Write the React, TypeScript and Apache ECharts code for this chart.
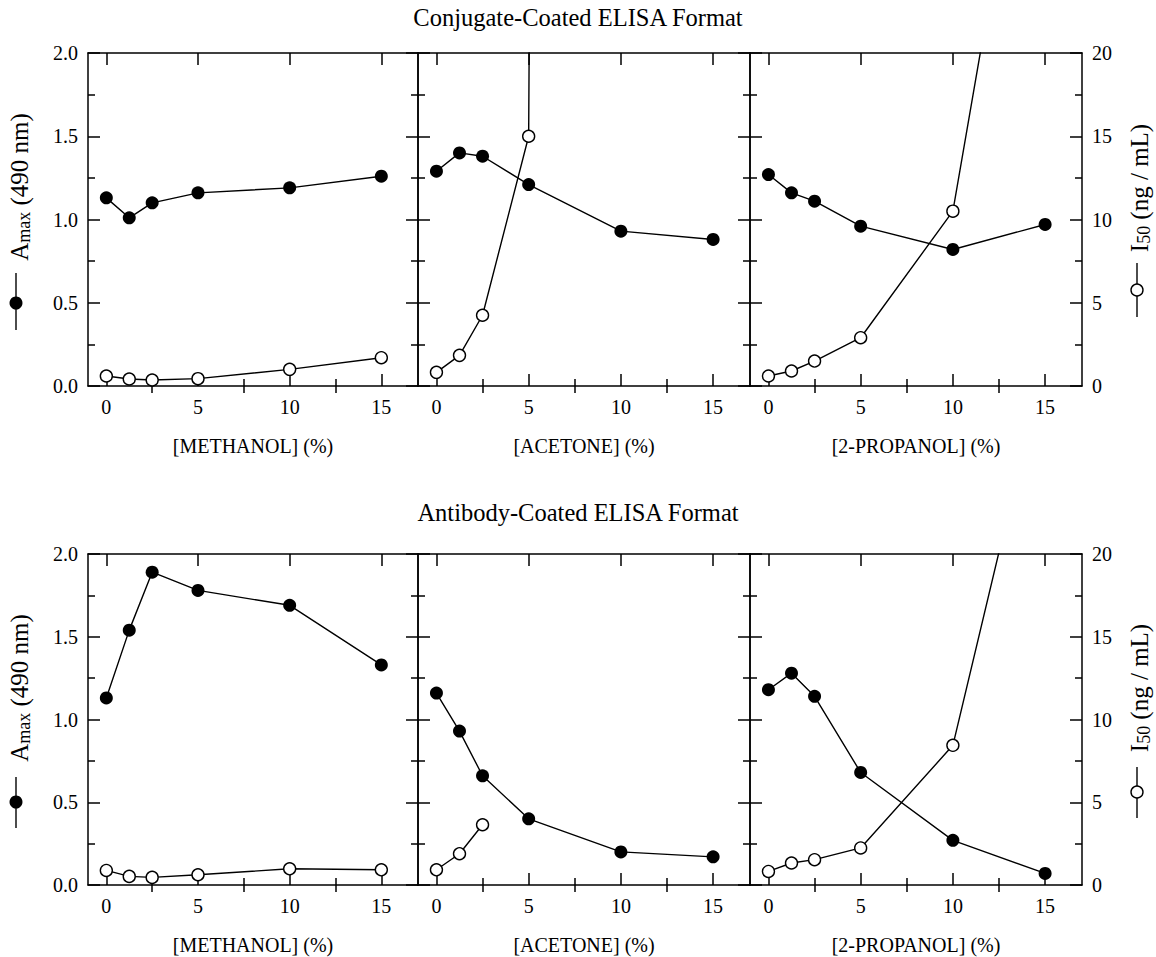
import React, { useEffect, useRef } from 'react';
import * as echarts from 'echarts';

// ---- data ----
const concentrations = [0, 1.25, 2.5, 5, 10, 15];
const solventLabels = ['[METHANOL] (%)', '[ACETONE] (%)', '[2-PROPANOL] (%)'];
const formatTitles = ['Conjugate-Coated ELISA Format', 'Antibody-Coated ELISA Format'];
const xMajorTicks = [0, 5, 10, 15];
const xMinorTicks = [2.5, 7.5, 12.5];

// Conjugate-coated format
const conjMethanolAmax = [1.13, 1.01, 1.10, 1.16, 1.19, 1.26];
const conjMethanolI50 = [0.6, 0.42, 0.36, 0.44, 1.0, 1.7];
const conjAcetoneAmax = [1.29, 1.40, 1.38, 1.21, 0.93, 0.88];
const conjAcetoneI50 = [0.82, 1.84, 4.25, 15.0, 1000]; // last value off scale
const conjPropanolAmax = [1.27, 1.16, 1.11, 0.96, 0.82, 0.97];
const conjPropanolI50 = [0.6, 0.9, 1.5, 2.9, 10.5, 42.5];

// Antibody-coated format
const abMethanolAmax = [1.13, 1.54, 1.89, 1.78, 1.69, 1.33];
const abMethanolI50 = [0.88, 0.52, 0.46, 0.62, 0.98, 0.92];
const abAcetoneAmax = [1.16, 0.93, 0.66, 0.40, 0.20, 0.17];
const abAcetoneI50 = [0.92, 1.89, 3.64];
const abPropanolAmax = [1.18, 1.28, 1.14, 0.68, 0.27, 0.07];
const abPropanolI50 = [0.82, 1.33, 1.53, 2.24, 8.44, 31.8];

const panelData = [
  [
    { amax: conjMethanolAmax, i50: conjMethanolI50 },
    { amax: conjAcetoneAmax, i50: conjAcetoneI50 },
    { amax: conjPropanolAmax, i50: conjPropanolI50 },
  ],
  [
    { amax: abMethanolAmax, i50: abMethanolI50 },
    { amax: abAcetoneAmax, i50: abAcetoneI50 },
    { amax: abPropanolAmax, i50: abPropanolI50 },
  ],
];

const FONT = '"Liberation Serif", "Times New Roman", serif';
const BLACK = '#000';
const TICK_FONT = 20;

function pairs(vals: number[]) {
  return vals.map((v, i) => [concentrations[i], v]);
}

function buildOption() {
  const rows = [
    { top: 53, height: 333 },
    { top: 554, height: 331 },
  ];
  const cols = [
    { left: 88, width: 330 },
    { left: 418, width: 332 },
    { left: 750, width: 332 },
  ];
  const grid: any[] = [];
  const xAxis: any[] = [];
  const yAxis: any[] = [];
  const series: any[] = [];
  const graphic: any[] = [];
  const lineStyle = { color: BLACK, width: 1.5 };

  rows.forEach((r, ri) => {
    cols.forEach((c, ci) => {
      const g = grid.length;
      grid.push({
        left: c.left,
        top: r.top,
        width: c.width,
        height: r.height,
        show: false,
        containLabel: false,
        outerBoundsMode: 'none',
      });
      const baseX = {
        type: 'value',
        gridIndex: g,
        min: -1,
        max: 17,
        splitLine: { show: false },
        axisLine: { show: true, onZero: false, lineStyle },
        axisLabel: { show: false },
      };
      const xi = xAxis.length;
      xAxis.push({
        ...baseX,
        position: 'bottom',
        axisTick: { show: true, inside: true, length: 12, customValues: xMajorTicks, lineStyle },
        axisLabel: {
          show: true,
          customValues: xMajorTicks,
          margin: 11,
          fontFamily: FONT,
          fontSize: TICK_FONT,
          color: BLACK,
        },
      });
      xAxis.push({
        ...baseX,
        position: 'bottom',
        axisLine: { show: false },
        axisTick: { show: true, inside: true, length: 7, customValues: xMinorTicks, lineStyle },
      });
      xAxis.push({
        ...baseX,
        position: 'top',
        axisTick: { show: true, inside: true, length: 12, customValues: xMajorTicks, lineStyle },
      });
      xAxis.push({
        ...baseX,
        position: 'top',
        axisLine: { show: false },
        axisTick: { show: true, inside: true, length: 7, customValues: xMinorTicks, lineStyle },
      });
      const yi = yAxis.length;
      yAxis.push({
        type: 'value',
        gridIndex: g,
        position: 'left',
        min: 0,
        max: 2,
        interval: 0.5,
        splitLine: { show: false },
        axisLine: { show: true, onZero: false, lineStyle },
        axisTick: { show: true, inside: true, length: 12, lineStyle },
        minorTick: { show: true, splitNumber: 2, length: 7, lineStyle },
        axisLabel: {
          show: ci === 0,
          margin: 10,
          fontFamily: FONT,
          fontSize: TICK_FONT,
          color: BLACK,
          formatter: (v: number) => v.toFixed(1),
        },
      });
      yAxis.push({
        type: 'value',
        gridIndex: g,
        position: 'right',
        min: 0,
        max: 20,
        interval: 5,
        splitLine: { show: false },
        axisLine: { show: true, onZero: false, lineStyle },
        axisTick: { show: true, inside: true, length: 12, lineStyle },
        minorTick: { show: true, splitNumber: 2, length: 7, lineStyle },
        axisLabel: {
          show: ci === 2,
          margin: 10,
          fontFamily: FONT,
          fontSize: TICK_FONT,
          color: BLACK,
        },
      });
      const d = panelData[ri][ci];
      series.push({
        type: 'line',
        xAxisIndex: xi,
        yAxisIndex: yi,
        data: pairs(d.amax),
        symbol: 'circle',
        symbolSize: 13,
        itemStyle: { color: BLACK },
        lineStyle: { color: BLACK, width: 1.4 },
        silent: true,
        clip: true,
        z: 3,
      });
      series.push({
        type: 'line',
        xAxisIndex: xi,
        yAxisIndex: yi + 1,
        data: pairs(d.i50),
        symbol: 'circle',
        symbolSize: 12,
        itemStyle: { color: '#fff', borderColor: BLACK, borderWidth: 1.4, opacity: 1 },
        lineStyle: { color: BLACK, width: 1.4 },
        silent: true,
        clip: true,
        z: 4,
      });
      // x-axis name
      graphic.push({
        type: 'text',
        x: c.left + c.width / 2,
        y: r.top + r.height + 60,
        style: {
          text: solventLabels[ci],
          fill: BLACK,
          font: `20px ${FONT}`,
          align: 'center',
          verticalAlign: 'middle',
        },
      });
    });
  });

  // Titles
  const titleYs = [17, 512];
  formatTitles.forEach((t, i) => {
    graphic.push({
      type: 'text',
      x: 578,
      y: titleYs[i],
      style: { text: t, fill: BLACK, font: `24.5px ${FONT}`, align: 'center', verticalAlign: 'middle' },
    });
  });

  // Rotated y-axis names with legend symbols
  const rich = {
    n: { fontSize: 25, fontFamily: FONT, lineHeight: 28, fill: BLACK },
    s: { fontSize: 18, fontFamily: FONT, lineHeight: 14, verticalAlign: 'bottom', fill: BLACK },
  };
  const leftY = [
    { text: 187, circle: 303, l1: 273, l2: 330 },
    { text: 688, circle: 802, l1: 777, l2: 828 },
  ];
  const rightY = [
    { text: 188, circle: 290, l1: 263, l2: 317 },
    { text: 688, circle: 792, l1: 767, l2: 818 },
  ];
  leftY.forEach((p) => {
    graphic.push({
      type: 'text',
      x: 19,
      y: p.text,
      rotation: Math.PI / 2,
      style: {
        text: '{n|A}{s|max}{n| (490 nm)}',
        rich,
        align: 'center',
        verticalAlign: 'middle',
      },
    });
    graphic.push({
      type: 'line',
      shape: { x1: 16, y1: p.l1, x2: 16, y2: p.l2 },
      style: { stroke: BLACK, lineWidth: 1.4 },
    });
    graphic.push({
      type: 'circle',
      shape: { cx: 16, cy: p.circle, r: 6.5 },
      style: { fill: BLACK },
    });
  });
  rightY.forEach((p) => {
    graphic.push({
      type: 'text',
      x: 1139,
      y: p.text,
      rotation: Math.PI / 2,
      style: {
        text: '{n|I}{s|50}{n| (ng / mL)}',
        rich,
        align: 'center',
        verticalAlign: 'middle',
      },
    });
    graphic.push({
      type: 'line',
      shape: { x1: 1137, y1: p.l1, x2: 1137, y2: p.l2 },
      style: { stroke: BLACK, lineWidth: 1.4 },
    });
    graphic.push({
      type: 'circle',
      shape: { cx: 1137, cy: p.circle, r: 6 },
      style: { fill: '#fff', stroke: BLACK, lineWidth: 1.4 },
    });
  });

  return {
    animation: false,
    backgroundColor: '#fff',
    textStyle: { fontFamily: FONT },
    grid,
    xAxis,
    yAxis,
    series,
    graphic,
  };
}

export default function App() {
  const ref = useRef<HTMLDivElement>(null);
  useEffect(() => {
    if (!ref.current) return;
    const chart = echarts.init(ref.current, undefined, { renderer: 'svg' });
    chart.setOption(buildOption() as any);
    return () => chart.dispose();
  }, []);
  return (
    <div
      ref={ref}
      style={{ position: 'fixed', left: 0, top: 0, width: 1156, height: 957, background: '#fff' }}
    />
  );
}
